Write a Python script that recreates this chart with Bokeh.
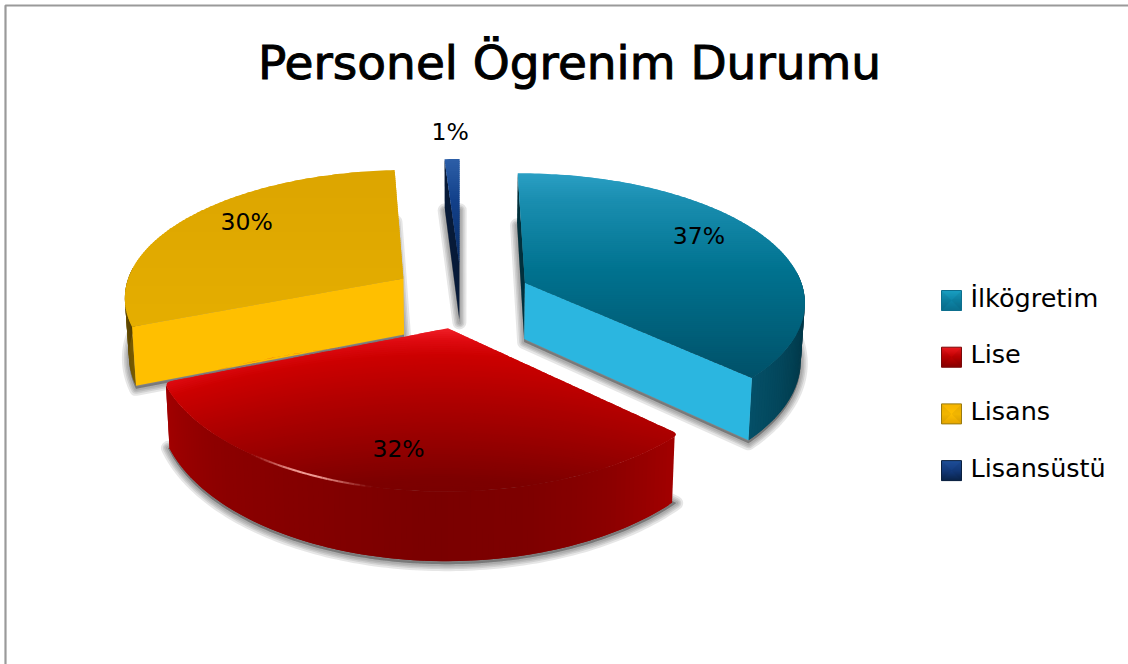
import math
from bokeh.plotting import figure
from bokeh.models import Range1d
from bokeh.core.properties import value
from bokeh.embed import file_html
from bokeh.resources import INLINE

TITLE = "Personel Ögrenim Durumu"
categories = ["İlkögretim", "Lise", "Lisans", "Lisansüstü"]
values = [37, 32, 30, 1]

# projection of the exploded 3D pie onto the page
CX, CY = 461.0, 295.0
SX, SY, SZ = 280.0, 129.0, 57.0
KX, KY = 0.13, 0.145
EXPLODE = 0.25
FONT = "DejaVu Sans"


def hexrgb(c):
    return tuple(int(c[i:i + 2], 16) for i in (1, 3, 5))


def ramp(stops, t):
    if t <= stops[0][0]:
        return stops[0][1]
    for (a, ca), (b, cb) in zip(stops, stops[1:]):
        if t <= b:
            f = (t - a) / (b - a)
            ra, rb = hexrgb(ca), hexrgb(cb)
            return "#%02x%02x%02x" % tuple(round(u + (v - u) * f) for u, v in zip(ra, rb))
    return stops[-1][1]


def proj(x, y, z=0.0):
    sx = (x * SX) / (1 + KX * y) * (1 - 0.012 * z)
    sy = -(y * SY) / (1 + KY * y) + z * SZ / (1 + KY * y)
    return CX + sx, CY + sy


def point(apex, deg, r=1.0, z=0.0):
    a = math.radians(deg)
    return proj(apex[0] + r * math.sin(a), apex[1] + r * math.cos(a), z)


def arc_angles(a0, a1, step=1.0):
    n = max(2, int(abs(a1 - a0) / step) + 1)
    return [a0 + (a1 - a0) * i / (n - 1) for i in range(n)]


def clip(poly, y0, y1):
    def side(pts, keep, cross_y):
        out = []
        for i, p in enumerate(pts):
            q = pts[(i + 1) % len(pts)]
            if keep(p):
                out.append(p)
            if keep(p) != keep(q):
                f = (cross_y - p[1]) / (q[1] - p[1])
                out.append((p[0] + (q[0] - p[0]) * f, cross_y))
        return out
    pts = side(poly, lambda p: p[1] >= y0, y0)
    if pts:
        pts = side(pts, lambda p: p[1] <= y1, y1)
    return pts


def densify(poly, most=8.0):
    out = []
    for i, a in enumerate(poly):
        b = poly[(i + 1) % len(poly)]
        n = max(1, int(math.hypot(b[0] - a[0], b[1] - a[1]) / most))
        for k in range(n):
            out.append((a[0] + (b[0] - a[0]) * k / n, a[1] + (b[1] - a[1]) * k / n))
    return out


def round_corner(poly, idx, r):
    n = len(poly)
    prev, c, nxt = poly[(idx - 1) % n], poly[idx % n], poly[(idx + 1) % n]
    while math.hypot(prev[0] - c[0], prev[1] - c[1]) < r and idx - 1 > -n:
        idx -= 1
        prev = poly[(idx - 1) % n]
    da = math.hypot(prev[0] - c[0], prev[1] - c[1])
    dist_prev = min(r, da)
    a = (c[0] + (prev[0] - c[0]) * dist_prev / da, c[1] + (prev[1] - c[1]) * dist_prev / da)
    j = (poly.index(c) + 1) % n
    travelled = 0.0
    cur = c
    while True:
        q = poly[j]
        seg = math.hypot(q[0] - cur[0], q[1] - cur[1])
        if travelled + seg >= r:
            f = (r - travelled) / seg
            b = (cur[0] + (q[0] - cur[0]) * f, cur[1] + (q[1] - cur[1]) * f)
            break
        travelled += seg
        cur = q
        j = (j + 1) % n
    curve = []
    for t in [k / 8 for k in range(9)]:
        curve.append(((1 - t) ** 2 * a[0] + 2 * t * (1 - t) * c[0] + t * t * b[0],
                      (1 - t) ** 2 * a[1] + 2 * t * (1 - t) * c[1] + t * t * b[1]))
    ci = poly.index(c)
    seq = poly[ci:] + poly[:ci]
    jpos = seq.index(poly[j])
    aipos = seq.index(prev)
    return seq[jpos:aipos + 1] + curve


p = figure(width=1128, height=664, output_backend="svg", toolbar_location=None,
           x_range=Range1d(0, 1128), y_range=Range1d(664, 0), min_border=0,
           margin=(0, 0, 0, 0), background_fill_color="white",
           border_fill_color="white", outline_line_color=None)
p.axis.visible = False
p.grid.visible = False


def flat(poly, color, alpha=1.0):
    p.patch([q[0] for q in poly], [q[1] for q in poly], fill_color=color, fill_alpha=alpha,
            line_color=None)


def banded(poly, stops, step=2.0, warp=None):
    warp = warp or (lambda x: 0.0)
    work = [(q[0], q[1] - warp(q[0])) for q in densify(poly)]
    ys_all = [q[1] for q in work]
    y = min(ys_all)
    xs, ys, cs = [], [], []
    while y < max(ys_all):
        # each band runs on under the next one, so no seam can show
        band = clip(work, y, y + step + 1.5)
        if len(band) >= 3:
            band = densify(band)
            xs.append([q[0] for q in band])
            ys.append([q[1] + warp(q[0]) for q in band])
            cs.append(ramp(stops, y + step / 2))
        y += step
    p.patches(xs, ys, fill_color=cs, line_color=None)


# angular extents of the slices (clockwise from the top)
spans = []
acc = 0.0
for v in values:
    spans.append((acc, acc + v * 3.6))
    acc += v * 3.6
apexes = []
for a0, a1 in spans:
    m = math.radians((a0 + a1) / 2)
    apexes.append((EXPLODE * math.sin(m), EXPLODE * math.cos(m)))

top_stops = [
    [(173, "#2a9fc4"), (200, "#1a8eb0"), (270, "#00728f"), (330, "#00607a"), (385, "#004e66")],
    [(330, "#ed1c24"), (340, "#de0a10"), (355, "#cc0000"), (400, "#ae0000"), (440, "#960000"),
     (480, "#7c0000"), (500, "#7a0000")],
    [(170, "#dca500"), (330, "#e5ae00")],
    [(158, "#2d5fa8"), (200, "#12408a"), (262, "#0a2e66")],
]
top_warp = [None, lambda x: 25.0 * ((x - 440.0) / 210.0) ** 2, None, None]
wall_stops = [
    [(85, "#012a38"), (110, "#023c4e"), (134, "#045068")],
    [(133, "#a40000"), (150, "#8c0000"), (165, "#7e0000"), (182, "#7a0000"), (225, "#8c0000"),
     (249, "#a30000")],
    [(248, "#7a5c00"), (275, "#4f3c00")],
    [(0, "#071a38"), (360, "#071a38")],
]
cut_start = ["#01303c", None, "#ffbf00", "#071a38"]
cut_end = ["#2bb6e0", None, None, None]
corner_round = [0.0, 7.0, 0.0, 0.0]


def top_poly(i):
    a0, a1 = spans[i]
    ap = apexes[i]
    return [proj(ap[0], ap[1])] + [point(ap, a) for a in arc_angles(a0, a1)]


# soft shadows: the bottom outline of each slice, shifted and blurred
for i in range(len(values)):
    a0, a1 = spans[i]
    ap = apexes[i]
    bottom = [proj(ap[0], ap[1], 1.0)] + [point(ap, a, 1.0, 1.0) for a in arc_angles(a0, a1)]
    bx = [q[0] for q in bottom]
    by = [q[1] + 3 for q in bottom]
    for w in (14, 10, 7, 4):
        p.patch(bx, by, fill_color="#303030", fill_alpha=0.12, line_color="#303030",
                line_alpha=0.12, line_width=w, line_join="round")

# back to front
for i in (3, 2, 0, 1):
    a0, a1 = spans[i]
    ap = apexes[i]
    # outer wall, only where it faces the viewer
    inset = 1.2 if corner_round[i] else 0.0
    w0, w1 = max(a0 + inset, 85.0), min(a1 - inset, 275.0)
    if w1 > w0:
        angs = arc_angles(w0, w1)
        qx, qy, qc = [], [], []
        for u, v in zip(angs, angs[1:]):
            e = min(v + 1.0, w1)
            quad = [point(ap, u), point(ap, e), point(ap, e, 1.0, 1.0), point(ap, u, 1.0, 1.0)]
            qx.append([q[0] for q in quad])
            qy.append([q[1] for q in quad])
            qc.append(ramp(wall_stops[i], (u + v) / 2))
        p.patches(qx, qy, fill_color=qc, line_color=None)
    # cut faces
    for ang, col in ((a0, cut_start[i]), (a1, cut_end[i])):
        if col:
            flat([proj(ap[0], ap[1]), point(ap, ang), point(ap, ang, 1.0, 1.0),
                  proj(ap[0], ap[1], 1.0)], col)
    # top face
    poly = top_poly(i)
    if corner_round[i]:
        first, last = poly[1], poly[-1]
        poly = round_corner(poly, poly.index(last), corner_round[i])
        poly = round_corner(poly, poly.index(first), corner_round[i])
    banded(poly, top_stops[i], warp=top_warp[i])

# glint along the rim of the Lise slice
glint = arc_angles(192, 218, 1.0)
for n, (u, v) in enumerate(zip(glint, glint[1:])):
    t = n / (len(glint) - 2)
    a = math.sin(math.pi * t) ** 1.5 * 0.9
    pa, pb = point(apexes[1], u), point(apexes[1], v)
    p.line([pa[0], pb[0]], [pa[1], pb[1]], line_color="#ffb0a8", line_alpha=a, line_width=2)

# data labels
LABEL_R = [0.72, 0.79, 0.72, 1.30]
LABEL_DY = [-12, -1, -11, 0]
for i, v in enumerate(values):
    mid = sum(spans[i]) / 2
    lx, ly = point(apexes[i], mid, LABEL_R[i])
    p.text([lx], [ly + LABEL_DY[i]], text=[f"{v}%"], text_font=value(FONT), text_font_size="23.5px",
           text_align="center", text_baseline="middle", text_color="black")

# title
p.text([569], [62], text=[TITLE], text_font=value(FONT), text_font_size="47px",
       text_align="center", text_baseline="middle", text_color="black",
       text_outline_color="black")

# legend
swatch_stops = [
    ["#1a9fc2", "#0c84a6", "#0b6f8d"],
    ["#ea1a20", "#c00000", "#860000"],
    ["#f4b400", "#ffc000", "#e4a600"],
    ["#1f4f98", "#143c80", "#0a2348"],
]
swatch_edge = ["#0d6f8e", "#7a0a0a", "#9a7a10", "#0a2040"]
LEG_X, LEG_Y0, LEG_DY, LEG_S = 941.0, 290.0, 56.7, 20.0
for i, name in enumerate(categories):
    y0 = LEG_Y0 + i * LEG_DY
    s = swatch_stops[i]
    banded([(LEG_X, y0), (LEG_X + LEG_S, y0), (LEG_X + LEG_S, y0 + LEG_S), (LEG_X, y0 + LEG_S)],
           [(y0, s[0]), (y0 + LEG_S / 2, s[1]), (y0 + LEG_S, s[2])], step=1.0)
    mx, my = LEG_X + LEG_S / 2, y0 + LEG_S / 2
    for sign in (-1, 1):
        flat([(mx + sign * LEG_S / 2, y0), (mx + sign * LEG_S / 2, y0 + LEG_S), (mx, my)],
             "#000000", 0.05)
    p.patch([LEG_X, LEG_X + LEG_S, LEG_X + LEG_S, LEG_X], [y0, y0, y0 + LEG_S, y0 + LEG_S],
            fill_alpha=0, line_color=swatch_edge[i], line_width=1)
    p.text([970], [y0 + 7], text=[name], text_font=value(FONT), text_font_size="25.5px",
           text_align="left", text_baseline="middle", text_color="black")

# frame of the chart area, cut by the page edge on the right and at the bottom
p.line([5, 5, 1128], [664, 5, 5], line_color="#9a9a9a", line_width=2.2)

open("out.html", "w").write(file_html(p, INLINE))
